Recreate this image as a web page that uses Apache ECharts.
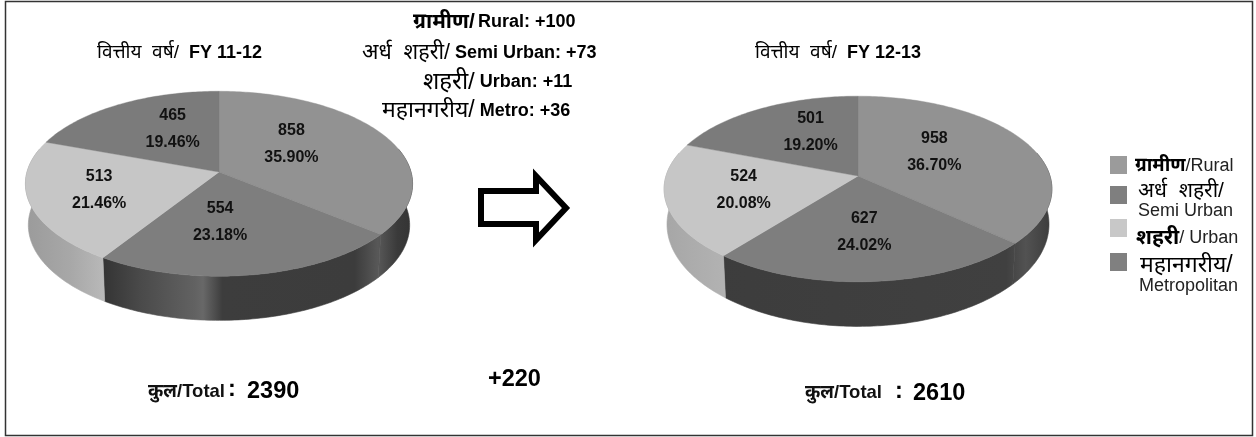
<!DOCTYPE html>
<html>
<head>
<meta charset="utf-8">
<style>
  html, body { margin: 0; padding: 0; background: #fff; }
  #chart { width: 1256px; height: 437px; }
</style>
<script src="https://cdn.jsdelivr.net/npm/echarts@6/dist/echarts.min.js"></script>
</head>
<body>
<div id="chart"></div>
<script>
  const categories = ['ग्रामीण/Rural', 'अर्ध शहरी/Semi Urban', 'शहरी/Urban', 'महानगरीय/Metropolitan']
  const fy1112Values = [858, 554, 513, 465]
  const fy1213Values = [958, 627, 524, 501]
  const fy1112Labels = ['35.90%', '23.18%', '21.46%', '19.46%']
  const fy1213Labels = ['36.70%', '24.02%', '20.08%', '19.20%']
  const changeLabels = ['+100', '+73', '+11', '+36']
  const totalChange = '+220'
  const totals = [2390, 2610]

  const topColors = ['#929292', '#7e7e7e', '#c6c6c6', '#7b7b7b']
  const FONT = '"Liberation Sans", "Noto Sans", sans-serif'

  // perspective disc: cx/cy is the apex, k the foreshortening, lower rim = upper rim scaled + dy
  const pie1 = { cx: 219, cy: 172, rx: 192, ry: 91, k: 0.127, dy: 41, sx: 0.985, sy: 1.03, nudge: [[-12, -9], [-15, 2], [-27, 3], [6, -7]] }
  const pie2 = { cx: 858, cy: 176, rx: 192, ry: 91, k: 0.14, dy: 34, sx: 0.985, sy: 1.1, nudge: [[-9, -6], [-2, 7], [-20, 2], [4, -8]] }

  function project(p, deg, f) {
    const a = (deg * Math.PI) / 180
    const X = Math.sin(a) * f
    const Y = -Math.cos(a) * f
    const w = 1 - p.k * Y
    return [p.cx + (p.rx * X) / w, p.cy + (p.ry * Y) / w]
  }

  function sliceAngles(values) {
    const sum = values.reduce((s, v) => s + v, 0)
    let acc = 0
    return values.map((v) => {
      const start = (acc / sum) * 360
      acc += v
      return [start, (acc / sum) * 360]
    })
  }

  function arcPoints(p, from, to) {
    const pts = []
    const n = Math.max(2, Math.ceil(to - from))
    for (let i = 0; i <= n; i++) pts.push(project(p, from + ((to - from) * i) / n, 1))
    return pts
  }

  function wallSeries(p, values, fills) {
    const angles = sliceAngles(values)
    return {
      type: 'custom',
      coordinateSystem: 'none',
      silent: true,
      z: 1,
      data: values,
      renderItem(params) {
        const [a, b] = angles[params.dataIndex]
        const from = Math.max(a, 75)
        const to = Math.min(b, 285)
        if (to <= from) return { type: 'group', children: [] }
        const upper = arcPoints(p, from, to)
        const lower = upper
          .map((q) => [p.cx + (q[0] - p.cx) * p.sx, p.cy + (q[1] - p.cy) * p.sy + p.dy])
          .reverse()
        const fill = fills[params.dataIndex]
        return {
          type: 'polygon',
          shape: { points: upper.concat(lower) },
          style: { fill: fill, stroke: fill, lineWidth: 0.6 },
        }
      },
    }
  }

  function topSeries(p, values, labels) {
    const angles = sliceAngles(values)
    return {
      type: 'custom',
      coordinateSystem: 'none',
      silent: true,
      z: 2,
      data: values,
      renderItem(params) {
        const i = params.dataIndex
        const [a, b] = angles[i]
        const pts = [[p.cx, p.cy]].concat(arcPoints(p, a, b))
        const mid = project(p, (a + b) / 2, 0.5)
        const lx = mid[0] + p.nudge[i][0]
        const ly = mid[1] + p.nudge[i][1]
        const textStyle = { fontFamily: FONT, fontWeight: 'bold', fontSize: 16, fill: '#111', align: 'center', verticalAlign: 'middle' }
        return {
          type: 'group',
          children: [
            { type: 'polygon', shape: { points: pts }, style: { fill: topColors[i], stroke: topColors[i], lineWidth: 0.4 } },
            { type: 'text', z2: 10, style: Object.assign({ x: lx, y: ly - 13.5, text: String(values[i]) }, textStyle) },
            { type: 'text', z2: 10, style: Object.assign({ x: lx, y: ly + 13.5, text: labels[i] }, textStyle) },
          ],
        }
      },
    }
  }

  function hGrad(x, x2, stops) {
    return {
      type: 'linear', global: true, x: x, y: 0, x2: x2, y2: 0,
      colorStops: stops.map((s) => ({ offset: s[0], color: s[1] })),
    }
  }

  const wallDark1 = hGrad(24, 413, [[0.2, '#333'], [0.3, '#4a4a4a'], [0.44, '#626262'], [0.46, '#686868'], [0.51, '#3d3d3d'], [0.85, '#3c3c3c'], [0.91, '#585858'], [0.96, '#3a3a3a'], [1, '#333']])
  const wallDark2 = hGrad(664, 1053, [[0, '#3c3c3c'], [0.88, '#404040'], [0.93, '#525252'], [1, '#3a3a3a']])
  const wallLight1 = hGrad(24, 103, [[0, '#9a9a9a'], [0.6, '#a8a8a8'], [1, '#b8b8b8']])
  const wallLight2 = hGrad(664, 722, [[0, '#a6a6a6'], [1, '#b2b2b2']])

  function label(x, y, parts) {
    return { type: 'text', x: x, y: y, style: { text: parts, rich: rich, verticalAlign: 'middle', align: 'left' } }
  }

  function fs(size, weight, fill) {
    return { fontFamily: FONT, fontSize: size, fontWeight: weight, fill: fill || '#000' }
  }

  const rich = {
    d19: fs(19, 'normal'),
    d21: fs(21, 'normal'),
    d215: fs(21.5, 'normal'),
    d23: fs(23, 'normal'),
    d24: fs(24, 'normal'),
    b19: fs(19, 'bold'),
    b21: fs(21, 'bold'),
    b18: fs(18, 'bold'),
    t: fs(18.5, 'bold', '#111'),
    big: fs(23.5, 'bold'),
    lg: fs(18, 'normal', '#222'),
  }

  const swatchY = [156, 186, 219, 253]
  const legendColors = ['#9b9b9b', '#7f7f7f', '#c8c8c8', '#808080']

  const graphic = [
    { type: 'rect', shape: { x: 5.5, y: 1.5, width: 1247, height: 434 }, style: { fill: 'none', stroke: '#333', lineWidth: 1.5 } },
    {
      type: 'polygon',
      shape: { points: [[481, 191], [536, 191], [536, 176], [566, 208], [536, 240], [536, 224], [481, 224]] },
      style: { fill: 'none', stroke: '#000', lineWidth: 6, lineJoin: 'miter' },
    },
    label(97, 53, '{d19|वित्तीय  वर्ष/}{b18|  FY 11-12}'),
    label(755, 53, '{d19|वित्तीय  वर्ष/}{b18|  FY 12-13}'),
    label(413, 22, '{b21|ग्रामीण/} {b18|Rural: ' + changeLabels[0] + '}'),
    label(362, 53, '{d215|अर्ध  शहरी/}{b18| Semi Urban: ' + changeLabels[1] + '}'),
    label(423, 82, '{d24|शहरी/}{b18| Urban: ' + changeLabels[2] + '}'),
    label(382, 111, '{d23|महानगरीय/}{b18| Metro: ' + changeLabels[3] + '}'),
    label(148, 392, '{t|कुल/Total}'),
    label(228, 390, '{big|:}'),
    label(247, 392, '{big|' + totals[0] + '}'),
    label(488, 380, '{big|' + totalChange + '}'),
    label(805, 393, '{t|कुल/Total}'),
    label(895, 392, '{big|:}'),
    label(913, 394, '{big|' + totals[1] + '}'),
    label(1135, 166, '{b19|ग्रामीण}{lg|/Rural}'),
    label(1138, 191, '{d21|अर्ध  शहरी/}'),
    label(1138, 211, '{lg|Semi Urban}'),
    label(1136, 238, '{b21|शहरी}{lg|/ Urban}'),
    label(1140, 266, '{d23|महानगरीय/}'),
    label(1139, 286, '{lg|Metropolitan}'),
  ]
  swatchY.forEach((y, i) => {
    graphic.push({ type: 'rect', shape: { x: 1110, y: y, width: 17, height: 18 }, style: { fill: legendColors[i] } })
  })

  const chart = echarts.init(document.getElementById('chart'), null, { renderer: 'canvas' })
  chart.setOption({
    animation: false,
    backgroundColor: '#fff',
    graphic: graphic,
    series: [
      wallSeries(pie1, fy1112Values, [wallDark1, wallDark1, wallLight1, wallLight1]),
      topSeries(pie1, fy1112Values, fy1112Labels),
      wallSeries(pie2, fy1213Values, [wallDark2, wallDark2, wallLight2, wallLight2]),
      topSeries(pie2, fy1213Values, fy1213Labels),
    ],
  })
</script>
</body>
</html>
